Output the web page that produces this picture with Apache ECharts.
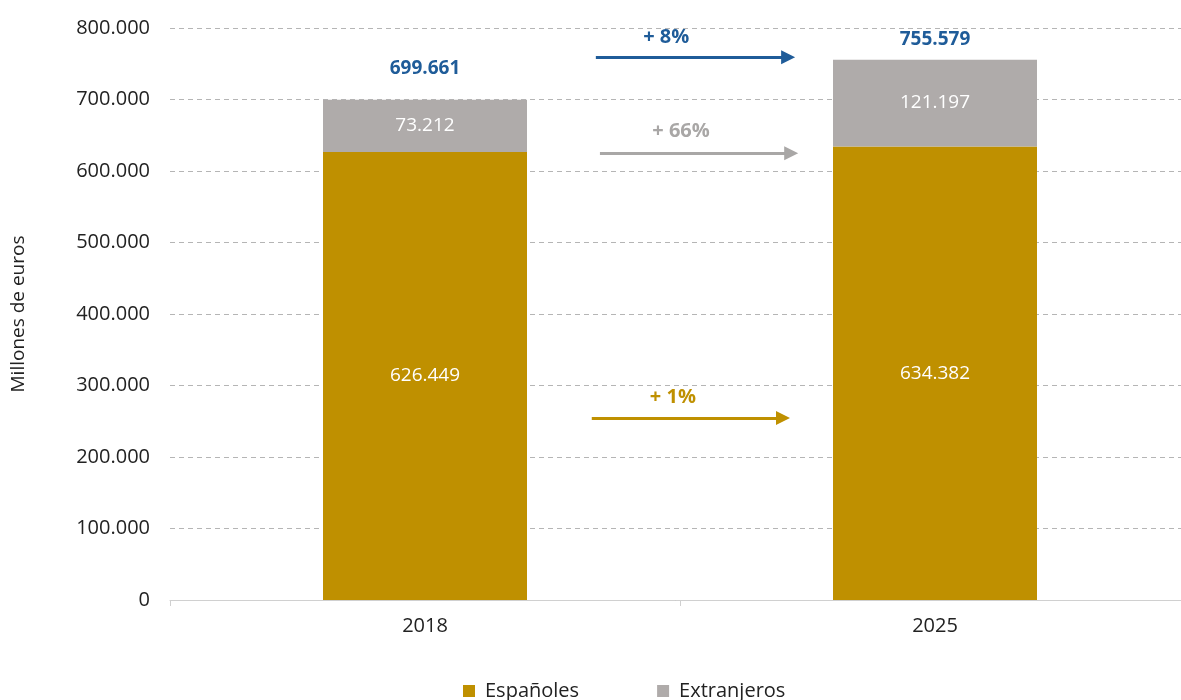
<!DOCTYPE html>
<html>
<head>
<meta charset="utf-8">
<script src="https://cdn.jsdelivr.net/npm/echarts@6/dist/echarts.min.js"></script>
<style>
  html, body { margin: 0; padding: 0; background: #fff; }
  #chart { width: 1181px; height: 700px; }
</style>
</head>
<body>
<div id="chart"></div>
<script>
const years = ['2018', '2025'];
const espanoles = [626449, 634382];
const extranjeros = [73212, 121197];
const totals = [699661, 755579];
const yTicks = [0, 100000, 200000, 300000, 400000, 500000, 600000, 700000, 800000];

// change arrows between the bars: [label, colour, x from, x to, y line, x label, y label]
const arrows = [
  ['+ 8%', '#1f5c99', 0.835, 1.212, 759000, 0.973, 787000],
  ['+ 66%', '#a9a7a6', 0.843, 1.218, 625000, 1.002, 656000],
  ['+ 1%', '#bf9000', 0.827, 1.202, 254500, 0.986, 284000],
];

const fmt = (v) => String(v).replace(/\B(?=(\d{3})+(?!\d))/g, '.');
const font = 'Open Sans';
const gold = '#bf9000';
const grey = '#afabaa';
const blue = '#1f5c99';

const chart = echarts.init(document.getElementById('chart'));

const option = {
  textStyle: { fontFamily: font },
  grid: { left: 170, right: -9, top: 28, bottom: 100, containLabel: false, outerBoundsMode: 'none' },
  legend: {
    bottom: -6,
    left: 458,
    icon: 'rect',
    itemWidth: 12,
    itemHeight: 12,
    itemGap: 78,
    data: ['Españoles', 'Extranjeros'],
    textStyle: { fontFamily: font, fontSize: 20, color: '#222', padding: [0, 0, 0, 5] },
  },
  xAxis: [
    {
      type: 'category',
      data: years,
      axisLine: { lineStyle: { color: '#d0d0d0' } },
      axisTick: { show: true, length: 6, lineStyle: { color: '#d0d0d0' } },
      axisLabel: { fontFamily: font, fontSize: 20, color: '#222', margin: 16 },
    },
    { type: 'value', min: 0, max: 2, show: false },
  ],
  yAxis: {
    type: 'value',
    min: 0,
    max: 800000,
    interval: 100000,
    name: 'Millones de euros',
    nameLocation: 'middle',
    nameGap: 142,
    nameRotate: 90,
    nameTextStyle: { fontFamily: font, fontSize: 19, color: '#222' },
    axisLine: { show: false },
    axisTick: { show: false },
    axisLabel: {
      fontFamily: font,
      fontSize: 20,
      color: '#222',
      margin: 20,
      formatter: (v) => (yTicks.includes(v) ? fmt(v) : ''),
    },
    splitLine: { lineStyle: { color: '#b5b5b5', type: [5, 4] } },
  },
  series: [
    {
      name: 'Españoles',
      type: 'bar',
      stack: 'total',
      barWidth: '40%',
      itemStyle: { color: gold },
      data: espanoles,
      label: {
        show: true,
        position: 'inside',
        color: '#fff',
        fontFamily: font,
        fontSize: 19,
        formatter: (p) => fmt(p.value),
      },
    },
    {
      name: 'Extranjeros',
      type: 'bar',
      stack: 'total',
      itemStyle: { color: grey },
      data: extranjeros,
      label: {
        show: true,
        position: 'inside',
        color: '#fff',
        fontFamily: font,
        fontSize: 19,
        formatter: (p) => fmt(p.value),
      },
    },
    {
      name: 'Total',
      type: 'scatter',
      symbolSize: 0,
      silent: true,
      itemStyle: { opacity: 1 },
      data: [
        { value: totals[0], label: { distance: 22 } },
        { value: totals[1], label: { distance: 11 } },
      ],
      label: {
        show: true,
        position: 'top',
        color: blue,
        fontFamily: font,
        fontSize: 19,
        fontWeight: 'bold',
        formatter: (p) => fmt(p.value),
      },
    },
    {
      name: 'Cambio',
      type: 'scatter',
      xAxisIndex: 1,
      symbolSize: 0,
      silent: true,
      itemStyle: { opacity: 1 },
      data: arrows.map((a) => ({
        name: a[0],
        value: [a[5], a[6]],
        label: { color: a[1] },
      })),
      label: {
        show: true,
        position: 'inside',
        fontFamily: font,
        fontSize: 20,
        fontWeight: 'bold',
        formatter: (p) => p.name,
      },
      markLine: {
        silent: true,
        symbol: ['none', 'triangle'],
        symbolSize: [14, 14],
        label: { show: false },
        data: arrows.map((a) => [
          { coord: [a[2], a[4]], lineStyle: { color: a[1], width: 3, type: 'solid' }, itemStyle: { color: a[1] } },
          { coord: [a[3], a[4]] },
        ]),
      },
    },
  ],
};

chart.setOption(option);
</script>
</body>
</html>
